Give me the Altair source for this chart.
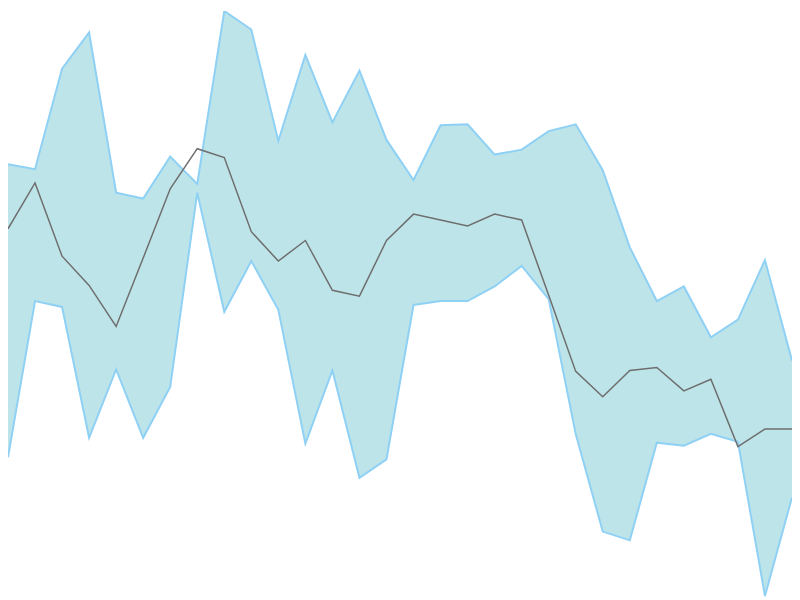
import altair as alt
import pandas as pd

# Values (pixel heights converted to value = 600 - y)
upper_px = [157, 162, 59, 22, 186, 192, 149, 177, 0, 19,
            133, 45, 114, 61, 132, 173, 117, 116, 147, 142,
            123, 116, 163, 242, 297, 282, 334, 316, 255, 358]
lower_px = [457, 297, 303, 437, 367, 437, 385, 186, 308, 256,
            306, 443, 368, 478, 459, 301, 297, 297, 282, 261,
            295, 433, 533, 542, 442, 445, 433, 441, 599, 498]
line_px = [223, 176, 251, 281, 323, 253, 182, 141, 150, 226,
           256, 235, 286, 292, 235, 208, 214, 220, 208, 214,
           291, 369, 395, 368, 365, 389, 377, 446, 428, 428]

idx = list(range(len(line_px)))
upper = [600 - v for v in upper_px]
lower = [600 - v for v in lower_px]
mid = [600 - v for v in line_px]

df = pd.DataFrame({"i": idx, "upper": upper, "lower": lower, "mid": mid})

x = alt.X("i:Q", scale=alt.Scale(domain=[0, 29], nice=False, zero=False), axis=None)
yscale = alt.Scale(domain=[0, 600], nice=False, zero=False)

band = alt.Chart(df).mark_area(color="#bde4e9", opacity=1, clip=True).encode(
    x=x,
    y=alt.Y("upper:Q", scale=yscale, axis=None),
    y2="lower:Q",
)
up_line = alt.Chart(df).mark_line(color="#8fd0f5", strokeWidth=2, clip=True).encode(
    x=x, y=alt.Y("upper:Q", scale=yscale, axis=None)
)
lo_line = alt.Chart(df).mark_line(color="#8fd0f5", strokeWidth=2, clip=True).encode(
    x=x, y=alt.Y("lower:Q", scale=yscale, axis=None)
)
mid_line = alt.Chart(df).mark_line(color="#6e6e6e", strokeWidth=1.5, clip=True).encode(
    x=x, y=alt.Y("mid:Q", scale=yscale, axis=None)
)

chart = alt.layer(band, up_line, lo_line, mid_line).properties(
    width=792, height=592, padding=0, autosize=alt.AutoSizeParams(type="none")
).configure_view(stroke=None)

chart.save("out.html", embed_options={"renderer": "svg", "actions": False})
